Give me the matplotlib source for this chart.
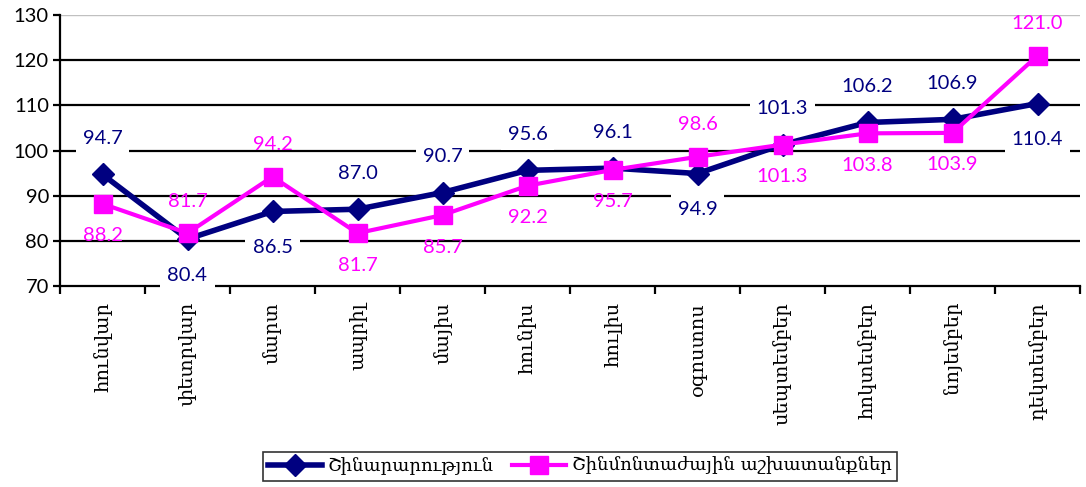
import matplotlib
matplotlib.use('Agg')
import matplotlib.pyplot as plt
import matplotlib.transforms as mtransforms
import numpy as np

# months (Armenian)
months = ['հունվար', 'փետրվար', 'մարտ', 'ապրիլ', 'մայիս', 'հունիս',
          'հուլիս', 'օգոստոս', 'սեպտեմբեր', 'հոկտեմբեր', 'նոյեմբեր', 'դեկտեմբեր']

# series values
construction = [94.7, 80.4, 86.5, 87.0, 90.7, 95.6, 96.1, 94.9, 101.3, 106.2, 106.9, 110.4]
installation = [88.2, 81.7, 94.2, 81.7, 85.7, 92.2, 95.7, 98.6, 101.3, 103.8, 103.9, 121.0]

series_names = ['Շինարարություն', 'Շինմոնտաժային աշխատանքներ']

# label placement: 1 = above, -1 = below
construction_pos = [1, -1, -1, 1, 1, 1, 1, -1, 1, 1, 1, -1]
installation_pos = [-1, 1, 1, -1, -1, -1, -1, 1, -1, -1, -1, 1]

navy = '#000080'
magenta = '#FF00FF'
num_font = ['Lato', 'DejaVu Sans']
arm_font = ['DejaVu Serif', 'DejaVu Sans']

fig = plt.figure(figsize=(10.86, 4.87), dpi=100)
ax = fig.add_axes([60 / 1086, 201 / 487, 1020 / 1086, 271 / 487])

x = np.arange(len(months))

ax.plot(x, construction, color=navy, lw=4, marker='D', ms=11, mfc=navy, mec=navy,
        label=series_names[0], zorder=3)
ax.plot(x, installation, color=magenta, lw=3, marker='s', ms=13, mfc=magenta, mec=magenta,
        label=series_names[1], zorder=4)

ax.set_xlim(-0.5, len(months) - 0.5)
ax.set_ylim(70, 130)
ax.set_yticks(np.arange(70, 131, 10))

# gridlines
for yv in np.arange(80, 130, 10):
    ax.axhline(yv, color='black', lw=1.6, zorder=1)
ax.axhline(130, color='#c0c0c0', lw=1, zorder=1)

for s in ['top', 'right']:
    ax.spines[s].set_visible(False)
ax.spines['left'].set_linewidth(1.6)
ax.spines['bottom'].set_linewidth(1.6)

# ticks at category boundaries
ax.set_xticks(np.arange(-0.5, len(months), 1))
ax.set_xticklabels([])
ax.tick_params(axis='x', length=6, width=1.6, direction='out')
ax.tick_params(axis='y', length=5, width=1.6, direction='out', pad=3)
for lab in ax.get_yticklabels():
    lab.set_family(num_font)
    lab.set_fontsize(14.5)

# month labels, shifted down below the axis
shift = ax.transData + mtransforms.ScaledTranslation(0, -16 / 100, fig.dpi_scale_trans)
for i, m in enumerate(months):
    ax.text(i, 70, m, rotation=90, ha='center', va='top', family=arm_font, fontsize=14,
            transform=shift, clip_on=False)

# data labels
for i, v in enumerate(construction):
    ax.annotate(f'{v:.1f}', (i, v), xytext=(0, 36 * construction_pos[i]), textcoords='offset pixels',
                ha='center', va='center', color=navy, fontsize=14.5, family=num_font,
                bbox=dict(boxstyle='square,pad=0.35', fc='white', ec='none'), zorder=6,
                annotation_clip=False)
for i, v in enumerate(installation):
    ax.annotate(f'{v:.1f}', (i, v), xytext=(0, 32 * installation_pos[i]), textcoords='offset pixels',
                ha='center', va='center', color=magenta, fontsize=14.5, family=num_font, zorder=7,
                annotation_clip=False)

leg = fig.legend(loc='center', bbox_to_anchor=(0.534, 0.043), ncol=2, frameon=True,
                 fancybox=False, edgecolor='black', prop={'family': arm_font, 'size': 13},
                 handlelength=3, columnspacing=1, handletextpad=0.3, borderpad=0.3)
leg.get_frame().set_linewidth(1.2)

fig.savefig('out.png', dpi=100)
